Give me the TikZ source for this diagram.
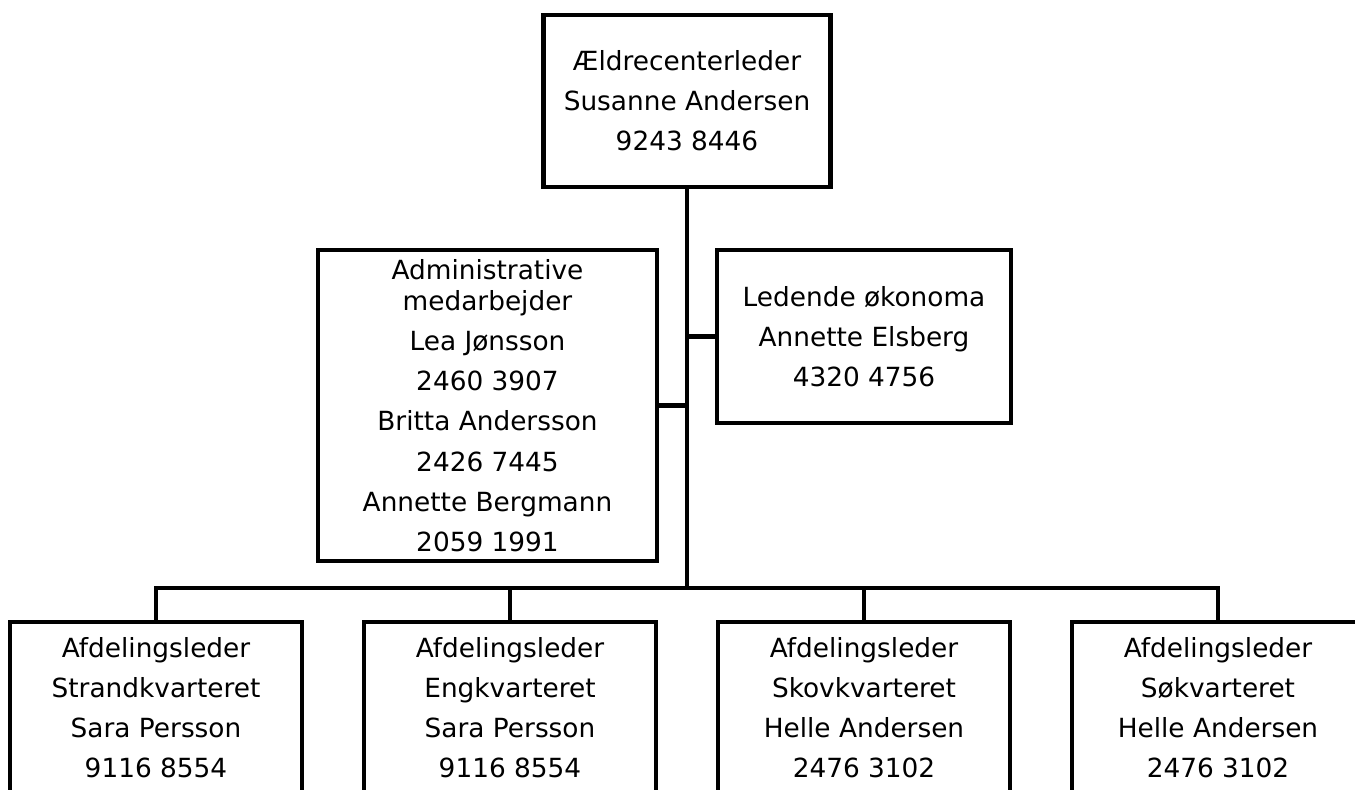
\documentclass[tikz,border=0pt]{standalone}
\usepackage{fontspec}
\setmainfont{DejaVu Sans}
\usetikzlibrary{positioning}

\begin{document}
\begin{tikzpicture}[x=0.02cm, y=-0.02cm]
    \tikzstyle{box}=[rectangle, draw, line width=2.5pt, align=center,
        inner sep=0, font=\fontsize{15}{22.8}\selectfont]
    \tikzstyle{link}=[line width=2.6pt]

    \useasboundingbox (0,0) rectangle (1355,789);
    \clip (0,0) rectangle (1355,789);

    % top
    \node[box, minimum width=5.74cm, minimum height=3.44cm] (leder) at (687,101)
        {Ældrecenterleder\\Susanne Andersen\\9243 8446};

    % staff
    \node[box, minimum width=6.78cm, minimum height=6.22cm] (admin) at (487.5,405.5)
        {Administrative\\[-5pt]medarbejder\\Lea Jønsson\\2460 3907\\Britta Andersson\\2426 7445\\Annette Bergmann\\2059 1991};
    \node[box, minimum width=5.88cm, minimum height=3.46cm] (oekonom) at (864,336.5)
        {Ledende økonoma\\Annette Elsberg\\4320 4756};

    % departments
    \node[box, minimum width=5.84cm, minimum height=3.44cm] (strand) at (156,708)
        {Afdelingsleder\\Strandkvarteret\\Sara Persson\\9116 8554};
    \node[box, minimum width=5.84cm, minimum height=3.44cm] (eng) at (510,708)
        {Afdelingsleder\\Engkvarteret\\Sara Persson\\9116 8554};
    \node[box, minimum width=5.84cm, minimum height=3.44cm] (skov) at (864,708)
        {Afdelingsleder\\Skovkvarteret\\Helle Andersen\\2476 3102};
    \node[box, minimum width=5.84cm, minimum height=3.44cm] (soe) at (1218,708)
        {Afdelingsleder\\Søkvarteret\\Helle Andersen\\2476 3102};

    \coordinate (bus) at (687,588);

    \draw[link] (leder.south) -- (bus);
    \draw[link] (admin.east) -- (admin.east -| bus);
    \draw[link] (oekonom.west) -- (oekonom.west -| bus);
    \draw[link] (strand.north) |- (bus) -| (soe.north);
    \draw[link] (eng.north) -- (eng.north |- bus);
    \draw[link] (skov.north) -- (skov.north |- bus);
\end{tikzpicture}
\end{document}
